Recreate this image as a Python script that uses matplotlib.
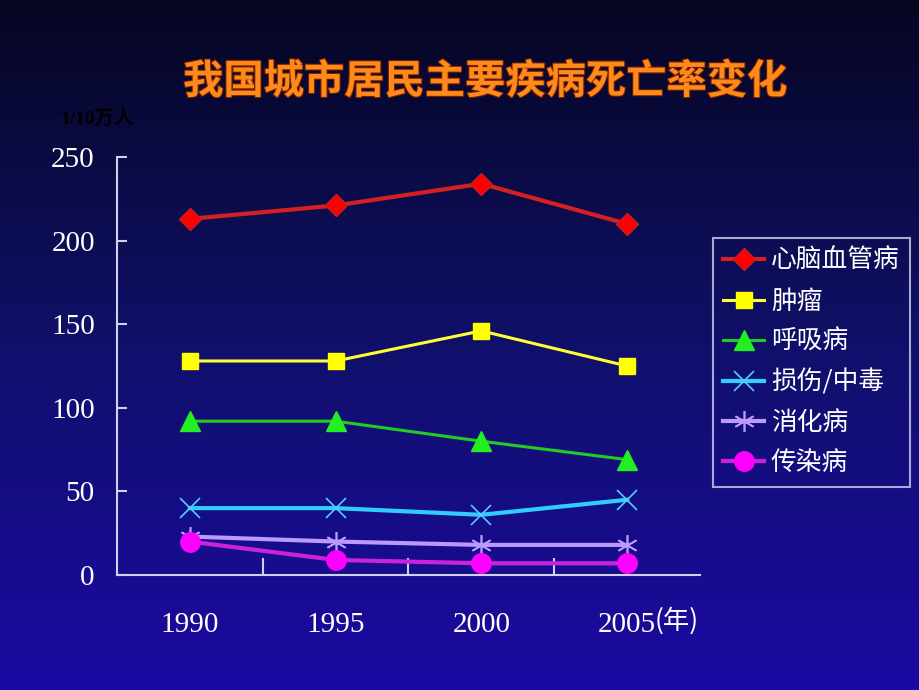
import numpy as np
import matplotlib
matplotlib.use("Agg")
import matplotlib.pyplot as plt
import matplotlib.patheffects as pe
from matplotlib.colors import LinearSegmentedColormap

plt.rcParams['font.family'] = ['Noto Sans CJK SC', 'DejaVu Sans']

years = ['1990', '1995', '2000', '2005']
cardio = [213, 221, 234, 210]
tumor = [128, 128, 146, 125]
resp = [92, 92, 80, 69]
injury = [40, 40, 36, 45]
digest = [23, 20, 18, 18]
infect = [20, 9, 7, 7]
series_names = ['心脑血管病', '肿瘤', '呼吸病', '损伤/中毒', '消化病', '传染病']
yticks = [0, 50, 100, 150, 200, 250]

fig = plt.figure(figsize=(9.2, 6.9), dpi=100)

# background gradient
bg = fig.add_axes([0, 0, 1, 1], zorder=0)
cmap = LinearSegmentedColormap.from_list('bg', ['#060622', '#10106a', '#1c0aa2'])
grad = np.linspace(0, 1, 256).reshape(-1, 1)
bg.imshow(grad, aspect='auto', cmap=cmap, extent=[0, 1, 0, 1], origin='upper')
bg.set_axis_off()

ax = fig.add_axes([117/920, 1-575/690, (700-117)/920, (575-157)/690], zorder=1)
ax.set_facecolor('none')

x = np.arange(len(years))
lw = 3
ax.plot(x, cardio, color='#d42020', lw=lw, marker='D', ms=11, mfc='#ff0000', mec='#c02020', label=series_names[0])
ax.plot(x, tumor, color='#ffff33', lw=lw-0.8, marker='s', ms=11, mfc='#ffff00', mec='#ffff00', label=series_names[1])
ax.plot(x, resp, color='#22cc22', lw=lw-0.8, marker='^', ms=14, mfc='#22ee22', mec='#22ee22', label=series_names[2])
ax.plot(x, injury, color='#33ccff', lw=lw, marker='x', ms=15, mew=1.2, mec='#55ccff', label=series_names[3])
ax.plot(x, digest, color='#bb99ff', lw=lw, marker=(6, 2, 0), ms=15, mew=1.2, mec='#bb99ff', label=series_names[4])
ax.plot(x, infect, color='#cc22dd', lw=lw, marker='o', ms=14, mfc='#ff00ff', mec='#ff00ff', label=series_names[5])

ax.set_xlim(-0.5, 3.5)
ax.set_ylim(0, 250)
for s in ['top', 'right']:
    ax.spines[s].set_visible(False)
for s in ['left', 'bottom']:
    ax.spines[s].set_color('#d0d0f0')
    ax.spines[s].set_linewidth(1.5)

ax.set_yticks(yticks)
ax.set_yticklabels([str(v) for v in yticks], family='Liberation Serif', fontsize=21, color='white')
ax.tick_params(axis='y', direction='in', length=7, width=1.5, color='#d0d0f0', pad=16)

ax.set_xticks([0.5, 1.5, 2.5])
ax.set_xticklabels([])
ax.tick_params(axis='x', which='major', direction='in', length=12, width=1.5, color='#d0d0f0')
ax.set_xticks(x, minor=True)
ax.set_xticklabels(years, minor=True, family='Liberation Serif', fontsize=21, color='white')
ax.tick_params(axis='x', which='minor', length=0, pad=27)
fig.text(655/920, 1-621/690, '(年)', ha='left', va='center',
         fontsize=19, color='white', family=['Noto Sans CJK SC'])

fig.text(485/920, 1-82/690, '我国城市居民主要疾病死亡率变化', ha='center', va='center',
         fontsize=29, color='#ff8a1c', fontweight='bold',
         path_effects=[pe.withStroke(linewidth=1.5, foreground='#7a2000')])
fig.text(60/920, 1-118/690, '1/10万人', ha='left', va='center', fontsize=14,
         color='#000000', fontweight='bold', family=['Liberation Serif', 'Noto Sans CJK SC'])

leg = ax.legend(loc='upper left', bbox_to_anchor=(713/920, 1-238/690), bbox_transform=fig.transFigure,
                frameon=True, fancybox=False, fontsize=18.5, labelcolor='white',
                handlelength=1.6, handletextpad=0.25, labelspacing=0.56, borderpad=0.4,
                borderaxespad=0)
leg.get_frame().set_facecolor('none')
leg.get_frame().set_edgecolor('#d0d0f0')
leg.get_frame().set_linewidth(1.5)

fig.savefig('out.png', dpi=100)
